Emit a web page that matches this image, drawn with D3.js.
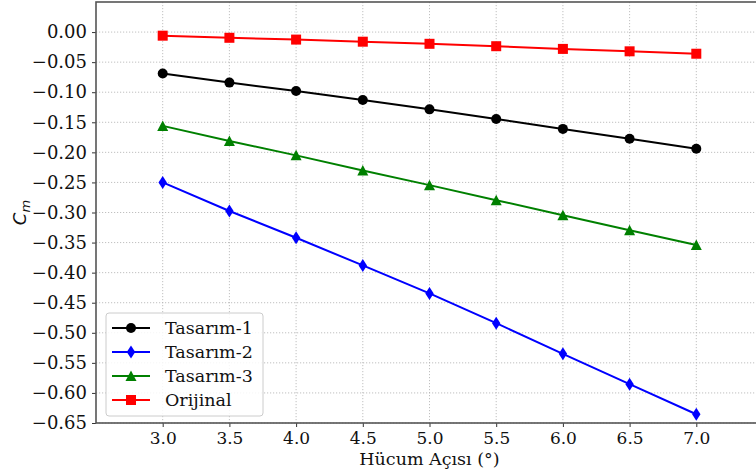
<!DOCTYPE html>
<html><head><meta charset="utf-8">
<script src="https://cdn.jsdelivr.net/npm/d3@7"></script>
<style>body{margin:0;background:#fff}svg{display:block}</style>
</head><body>
<svg id="c" width="756" height="473"></svg>
<script>
const angles = [3.0, 3.5, 4.0, 4.5, 5.0, 5.5, 6.0, 6.5, 7.0];
const tasarim1 = [-0.069, -0.084, -0.098, -0.113, -0.1285, -0.1445, -0.161, -0.1775, -0.194];
const tasarim2 = [-0.250, -0.2975, -0.342, -0.388, -0.4345, -0.484, -0.535, -0.5855, -0.6355];
const tasarim3 = [-0.156, -0.181, -0.205, -0.230, -0.2545, -0.2795, -0.3045, -0.3295, -0.354];
const orijinal = [-0.006, -0.0095, -0.0125, -0.016, -0.0195, -0.0235, -0.028, -0.032, -0.036];
const xTicks = [3.0, 3.5, 4.0, 4.5, 5.0, 5.5, 6.0, 6.5, 7.0];
const yTicks = [0.00,-0.05,-0.10,-0.15,-0.20,-0.25,-0.30,-0.35,-0.40,-0.45,-0.50,-0.55,-0.60,-0.65];
const seriesNames = ["Tasarım-1", "Tasarım-2", "Tasarım-3", "Orijinal"];
const seriesColors = ["#000000", "#0000ff", "#008000", "#ff0000"];
const seriesMarkers = ["circle", "diamond", "triangle", "square"];
const seriesValues = [tasarim1, tasarim2, tasarim3, orijinal];

const svg = d3.select("#c");
const L = 96, R = 763, T = 2, B = 423;
const x = d3.scaleLinear().domain([2.5, 7.5]).range([L, R]);
const y = d3.scaleLinear().domain([-0.65, 0.05]).range([B, T]);
const font = "'DejaVu Serif', serif";

// grid
const g = svg.append("g");
g.selectAll(".gx").data(xTicks).enter().append("line")
  .attr("x1", d => x(d)).attr("x2", d => x(d)).attr("y1", T).attr("y2", B)
  .attr("stroke", "#b0b0b0").attr("stroke-width", 0.8).attr("stroke-dasharray", "1.2,1.8");
g.selectAll(".gy").data(yTicks).enter().append("line")
  .attr("x1", L).attr("x2", R).attr("y1", d => y(d)).attr("y2", d => y(d))
  .attr("stroke", "#b0b0b0").attr("stroke-width", 0.8).attr("stroke-dasharray", "1.2,1.8");

// axes
const fmt = d3.format(".2f");
const xAxis = svg.append("g").attr("transform", `translate(0,${B})`)
  .call(d3.axisBottom(x).tickValues(xTicks).tickFormat(d3.format(".1f")).tickSizeOuter(0).tickSize(4).tickPadding(4));
const yAxis = svg.append("g").attr("transform", `translate(${L},0)`)
  .call(d3.axisLeft(y).tickValues(yTicks).tickFormat(fmt).tickSizeOuter(0).tickSize(4).tickPadding(5));
[xAxis, yAxis].forEach(a => {
  a.attr("font-family", font).attr("font-size", 18);
  a.select(".domain").remove();
  a.selectAll("text").style("font-family", font).style("font-size", "18px").attr("fill", "#111");
  a.selectAll("line").attr("stroke", "#333").attr("stroke-width", 1);
});
xAxis.selectAll("text").style("font-size", "17px").attr("dy", "0.78em");

// spines
svg.append("rect").attr("x", L).attr("y", T).attr("width", R - L).attr("height", B - T)
  .attr("fill", "none").attr("stroke", "#555").attr("stroke-width", 1.6);

// lines
const line = d3.line().x((d, i) => x(angles[i])).y(d => y(d));
function marker(sel, type, color) {
  if (type === "circle") sel.append("circle").attr("r", 5).attr("fill", color);
  else if (type === "square") sel.append("rect").attr("x", -5).attr("y", -5).attr("width", 10).attr("height", 10).attr("fill", color);
  else if (type === "diamond") sel.append("path").attr("d", "M0,-6.5L4.2,0L0,6.5L-4.2,0Z").attr("fill", color);
  else if (type === "triangle") sel.append("path").attr("d", "M0,-5.5L5.5,5L-5.5,5Z").attr("fill", color);
}
seriesValues.forEach((vals, s) => {
  svg.append("path").datum(vals).attr("d", line).attr("fill", "none")
    .attr("stroke", seriesColors[s]).attr("stroke-width", 2);
  vals.forEach((v, i) => {
    const m = svg.append("g").attr("transform", `translate(${x(angles[i])},${y(v)})`);
    marker(m, seriesMarkers[s], seriesColors[s]);
  });
});

// axis labels
svg.append("text").attr("x", (L + R) / 2).attr("y", 465).attr("text-anchor", "middle")
  .style("font-family", font).style("font-size", "17.5px").attr("fill", "#111").text("Hücum Açısı (°)");
const yl = svg.append("text").attr("transform", `translate(26,${(T + B) / 2}) rotate(-90)`)
  .attr("text-anchor", "middle").style("font-family", "'DejaVu Sans', sans-serif")
  .attr("font-style", "italic").style("font-size", "18px").attr("fill", "#111");
yl.append("tspan").text("C");
yl.append("tspan").style("font-size", "13px").attr("dy", 4).text("m");

// legend
const lg = svg.append("g");
lg.append("rect").attr("x", 106).attr("y", 313).attr("width", 157).attr("height", 103)
  .attr("rx", 3).attr("fill", "#fff").attr("fill-opacity", 0.85).attr("stroke", "#cccccc").attr("stroke-width", 1);
seriesNames.forEach((n, s) => {
  const yy = 328 + s * 24;
  lg.append("line").attr("x1", 112).attr("x2", 150).attr("y1", yy).attr("y2", yy)
    .attr("stroke", seriesColors[s]).attr("stroke-width", 2);
  const m = lg.append("g").attr("transform", `translate(131,${yy})`);
  marker(m, seriesMarkers[s], seriesColors[s]);
  lg.append("text").attr("x", 165).attr("y", yy).attr("dy", "0.35em")
    .style("font-family", font).style("font-size", "17.5px").attr("fill", "#111").text(n);
});
</script>
</body></html>
